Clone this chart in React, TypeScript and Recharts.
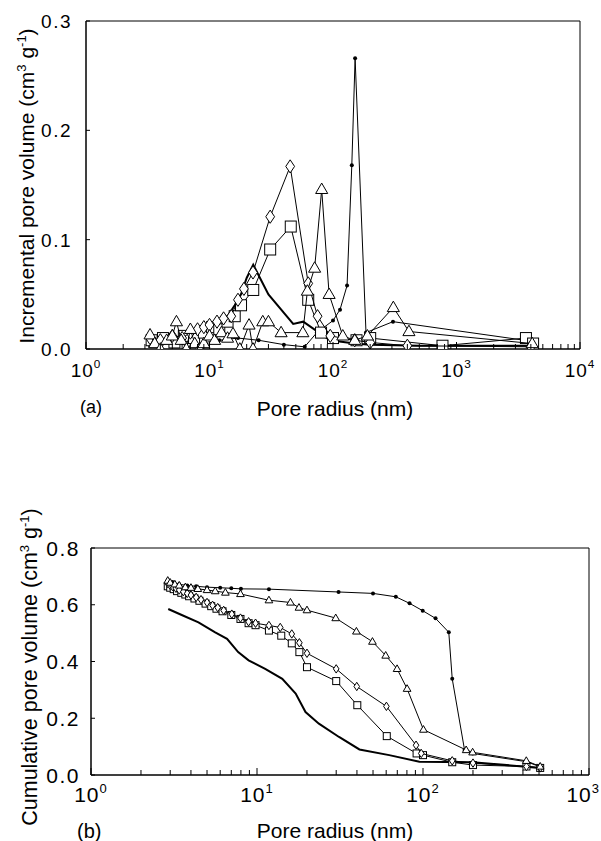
import React from "react";
import { ScatterChart, Scatter, XAxis, YAxis, ReferenceArea } from "recharts";

// ---- data ----
// (a) incremental pore volume, cm3/g vs pore radius, nm
const incDots = [
  { r: 3.3, v: 0.003 }, { r: 5, v: 0.005 }, { r: 8, v: 0.005 }, { r: 12, v: 0.008 },
  { r: 17, v: 0.01 }, { r: 25, v: 0.008 }, { r: 40, v: 0.004 }, { r: 59, v: 0.002 },
  { r: 74, v: 0.015 }, { r: 100, v: 0.026 }, { r: 114, v: 0.036 }, { r: 130, v: 0.058 },
  { r: 142, v: 0.168 }, { r: 151, v: 0.266 }, { r: 185, v: 0.015 }, { r: 306, v: 0.025 },
  { r: 4100, v: 0.007 },
];
const incTriangles = [
  { r: 3.3, v: 0.013 }, { r: 3.6, v: 0.005 }, { r: 4.0, v: 0.0 }, { r: 4.5, v: 0.008 },
  { r: 5.0, v: 0.012 }, { r: 5.4, v: 0.025 }, { r: 5.9, v: 0.008 }, { r: 6.5, v: 0.0 },
  { r: 7.0, v: 0.018 }, { r: 7.6, v: 0.005 }, { r: 8.3, v: 0.0 }, { r: 9, v: 0.005 },
  { r: 10, v: 0.012 }, { r: 11, v: 0.008 }, { r: 12.5, v: 0.015 }, { r: 14, v: 0.01 },
  { r: 15.5, v: 0.014 }, { r: 17.6, v: 0.0 }, { r: 20.9, v: 0.022 }, { r: 22.5, v: 0.0 },
  { r: 27, v: 0.025 }, { r: 30, v: 0.025 }, { r: 38, v: 0.015 }, { r: 57, v: 0.015 },
  { r: 62, v: 0.053 }, { r: 71, v: 0.074 }, { r: 81, v: 0.146 }, { r: 93, v: 0.05 },
  { r: 120, v: 0.012 }, { r: 150, v: 0.008 }, { r: 190, v: 0.012 }, { r: 308, v: 0.038 },
  { r: 412, v: 0.016 }, { r: 4100, v: 0.005 },
];
const incDiamonds = [
  { r: 3.3, v: 0.01 }, { r: 4, v: 0.008 }, { r: 5, v: 0.012 }, { r: 6, v: 0.01 },
  { r: 7, v: 0.015 }, { r: 8, v: 0.018 }, { r: 9, v: 0.02 }, { r: 10, v: 0.022 },
  { r: 11.5, v: 0.025 }, { r: 13, v: 0.028 }, { r: 15, v: 0.03 }, { r: 17, v: 0.045 },
  { r: 19, v: 0.055 }, { r: 22.5, v: 0.07 }, { r: 31, v: 0.121 }, { r: 45, v: 0.167 },
  { r: 63, v: 0.06 }, { r: 75, v: 0.03 }, { r: 95, v: 0.012 }, { r: 150, v: 0.008 },
  { r: 200, v: 0.006 }, { r: 400, v: 0.003 }, { r: 4000, v: 0.002 },
];
const incSquares = [
  { r: 3.4, v: 0.008 }, { r: 4.2, v: 0.01 }, { r: 5.2, v: 0.006 }, { r: 6.2, v: 0.012 },
  { r: 7.5, v: 0.01 }, { r: 9, v: 0.015 }, { r: 10.5, v: 0.02 }, { r: 12, v: 0.018 },
  { r: 14, v: 0.025 }, { r: 16, v: 0.03 }, { r: 18, v: 0.04 }, { r: 22.6, v: 0.054 },
  { r: 31, v: 0.091 }, { r: 45.5, v: 0.112 }, { r: 63, v: 0.045 }, { r: 80, v: 0.015 },
  { r: 100, v: 0.01 }, { r: 155, v: 0.008 }, { r: 200, v: 0.01 }, { r: 770, v: 0.003 },
  { r: 3650, v: 0.01 }, { r: 4170, v: 0.005 },
];
const incThick = [
  { r: 3.3, v: 0.005 }, { r: 4, v: 0.008 }, { r: 5, v: 0.01 }, { r: 6, v: 0.012 },
  { r: 7, v: 0.015 }, { r: 8.5, v: 0.018 }, { r: 10, v: 0.02 }, { r: 12, v: 0.025 },
  { r: 14, v: 0.03 }, { r: 16, v: 0.04 }, { r: 18, v: 0.05 }, { r: 20, v: 0.065 },
  { r: 22.6, v: 0.077 }, { r: 30, v: 0.05 }, { r: 47.6, v: 0.023 }, { r: 57.4, v: 0.025 },
  { r: 94.5, v: 0.008 }, { r: 150, v: 0.005 }, { r: 200, v: 0.004 }, { r: 500, v: 0.003 },
  { r: 4000, v: 0.003 },
];

// (b) cumulative pore volume
const cumDots = [
  { r: 2.9, v: 0.687 }, { r: 3.1, v: 0.68 }, { r: 3.4, v: 0.672 }, { r: 3.8, v: 0.668 },
  { r: 4.3, v: 0.665 }, { r: 5, v: 0.662 }, { r: 6, v: 0.66 }, { r: 7, v: 0.658 },
  { r: 8, v: 0.656 }, { r: 11.8, v: 0.655 }, { r: 31, v: 0.645 }, { r: 50, v: 0.64 },
  { r: 68.6, v: 0.628 }, { r: 83, v: 0.605 }, { r: 99.6, v: 0.579 }, { r: 119, v: 0.552 },
  { r: 143, v: 0.503 }, { r: 150, v: 0.339 }, { r: 178, v: 0.088 }, { r: 199, v: 0.076 },
  { r: 419, v: 0.047 }, { r: 508, v: 0.029 },
];
const cumTriangles = [
  { r: 2.9, v: 0.685 }, { r: 3.0, v: 0.678 }, { r: 3.2, v: 0.672 }, { r: 3.4, v: 0.668 },
  { r: 3.7, v: 0.662 }, { r: 4.0, v: 0.66 }, { r: 4.4, v: 0.656 }, { r: 5, v: 0.652 },
  { r: 5.6, v: 0.648 }, { r: 6.45, v: 0.643 }, { r: 7.95, v: 0.638 }, { r: 11.8, v: 0.616 },
  { r: 15.9, v: 0.608 }, { r: 17.9, v: 0.59 }, { r: 20, v: 0.581 }, { r: 29.8, v: 0.553 },
  { r: 39.7, v: 0.506 }, { r: 49.6, v: 0.47 }, { r: 59.6, v: 0.421 }, { r: 69.8, v: 0.374 },
  { r: 80.2, v: 0.304 }, { r: 100.6, v: 0.16 }, { r: 182, v: 0.088 }, { r: 199, v: 0.08 },
  { r: 419, v: 0.05 }, { r: 508, v: 0.03 },
];
const cumDiamonds = [
  { r: 2.9, v: 0.675 }, { r: 3.0, v: 0.668 }, { r: 3.1, v: 0.664 }, { r: 3.25, v: 0.658 },
  { r: 3.4, v: 0.652 }, { r: 3.6, v: 0.646 }, { r: 3.8, v: 0.64 }, { r: 4.0, v: 0.634 },
  { r: 4.3, v: 0.626 }, { r: 4.6, v: 0.618 }, { r: 5.0, v: 0.608 }, { r: 5.4, v: 0.598 },
  { r: 5.8, v: 0.59 }, { r: 6.3, v: 0.58 }, { r: 7.05, v: 0.567 }, { r: 7.95, v: 0.553 },
  { r: 8.9, v: 0.54 }, { r: 9.8, v: 0.535 }, { r: 11.8, v: 0.527 }, { r: 13.8, v: 0.52 },
  { r: 16.2, v: 0.497 }, { r: 18, v: 0.466 }, { r: 20, v: 0.429 }, { r: 30, v: 0.374 },
  { r: 39.9, v: 0.312 }, { r: 60.2, v: 0.242 }, { r: 90.8, v: 0.105 }, { r: 97.6, v: 0.076 },
  { r: 150, v: 0.05 }, { r: 200, v: 0.042 }, { r: 420, v: 0.03 }, { r: 508, v: 0.025 },
];
const cumSquares = [
  { r: 2.9, v: 0.665 }, { r: 3.0, v: 0.66 }, { r: 3.15, v: 0.655 }, { r: 3.3, v: 0.648 },
  { r: 3.5, v: 0.642 }, { r: 3.7, v: 0.636 }, { r: 3.9, v: 0.63 }, { r: 4.2, v: 0.622 },
  { r: 4.5, v: 0.614 }, { r: 4.9, v: 0.604 }, { r: 5.3, v: 0.595 }, { r: 5.7, v: 0.586 },
  { r: 6.2, v: 0.577 }, { r: 7.0, v: 0.564 }, { r: 7.95, v: 0.55 }, { r: 8.9, v: 0.535 },
  { r: 9.8, v: 0.528 }, { r: 11.8, v: 0.509 }, { r: 14, v: 0.491 }, { r: 16.2, v: 0.464 },
  { r: 18, v: 0.433 }, { r: 20, v: 0.38 }, { r: 30, v: 0.331 }, { r: 40.2, v: 0.246 },
  { r: 60.5, v: 0.137 }, { r: 91.5, v: 0.076 }, { r: 100, v: 0.07 }, { r: 150, v: 0.045 },
  { r: 200, v: 0.035 }, { r: 420, v: 0.03 }, { r: 508, v: 0.025 },
];
const cumThick = [
  { r: 2.92, v: 0.585 }, { r: 3.52, v: 0.564 }, { r: 4.44, v: 0.538 }, { r: 5.6, v: 0.503 },
  { r: 6.6, v: 0.48 }, { r: 7.7, v: 0.433 }, { r: 8.9, v: 0.404 }, { r: 11.2, v: 0.374 },
  { r: 14.2, v: 0.339 }, { r: 17.1, v: 0.287 }, { r: 19.6, v: 0.222 }, { r: 23.6, v: 0.181 },
  { r: 31.2, v: 0.134 }, { r: 41.4, v: 0.09 }, { r: 62.6, v: 0.07 }, { r: 95.1, v: 0.047 },
  { r: 199, v: 0.045 }, { r: 508, v: 0.025 },
];

// axis ticks
const xTicksTop = [
  1, 2, 3, 4, 5, 6, 7, 8, 9, 10, 20, 30, 40, 50, 60, 70, 80, 90,
  100, 200, 300, 400, 500, 600, 700, 800, 900, 1000, 2000, 3000, 4000, 5000, 6000, 7000, 8000, 9000, 10000,
];
const xTicksBottom = [
  1, 2, 3, 4, 5, 6, 7, 8, 9, 10, 20, 30, 40, 50, 60, 70, 80, 90,
  100, 200, 300, 400, 500, 600, 700, 800, 900, 1000,
];
const yTicksTop = [0, 0.1, 0.2, 0.3];
const yTicksBottom = [0, 0.2, 0.4, 0.6, 0.8];

const FONT = '"Liberation Sans", Arial, Helvetica, sans-serif';

const marker = (kind: string, size: number) => (props: any) => {
  const { cx, cy } = props;
  if (cx == null || cy == null) return <g />;
  const h = size / 2;
  if (kind === "triangle")
    return (
      <polygon
        points={`${cx},${cy - h * 1.15} ${cx - h * 1.1},${cy + h * 0.75} ${cx + h * 1.1},${cy + h * 0.75}`}
        fill="#fff" stroke="#000" strokeWidth={1} />
    );
  if (kind === "diamond")
    return (
      <polygon
        points={`${cx},${cy - h * 1.2} ${cx + h * 0.8},${cy} ${cx},${cy + h * 1.2} ${cx - h * 0.8},${cy}`}
        fill="#fff" stroke="#000" strokeWidth={1} />
    );
  if (kind === "square")
    return <rect x={cx - h} y={cy - h} width={size} height={size} fill="#fff" stroke="#000" strokeWidth={1} />;
  if (kind === "dot") return <circle cx={cx} cy={cy} r={2} fill="#000" />;
  return <g />;
};

const makeXTick = (labelDy: number, fs: number, rightLimit: number) => (props: any) => {
  const { x, y, payload } = props;
  const e = Math.log10(payload.value);
  const major = Math.abs(e - Math.round(e)) < 1e-9;
  // the last label sits on the page edge; pull it in so it stays whole
  const atEdge = x + fs > rightLimit;
  return (
    <g>
      <line x1={x} x2={x} y1={y} y2={y - (major ? 7 : 5)} stroke="#000" strokeWidth={1} />
      {major && (
        <text x={atEdge ? rightLimit : x} y={y + labelDy} textAnchor={atEdge ? "end" : "middle"}
          fontFamily={FONT} fontSize={fs} letterSpacing={1} fill="#000">
          10<tspan dy={-fs * 0.45} fontSize={fs * 0.62}>{Math.round(e)}</tspan>
        </text>
      )}
    </g>
  );
};

const makeYTick = (gap: number, fs: number) => (props: any) => {
  const { x, y, payload } = props;
  return (
    <g>
      <line x1={x} x2={x + 4} y1={y} y2={y} stroke="#000" strokeWidth={1} />
      <text x={x - gap} y={y + fs * 0.36} textAnchor="end" fontFamily={FONT} fontSize={fs}
        letterSpacing={1.5} fill="#000">
        {payload.value.toFixed(1)}
      </text>
    </g>
  );
};

const Panel = ({ top, height, margin, xMax, yMax, xTicks, yTicks, xLabelDy, yGap, fs, ms, series }: any) => (
  <div style={{ position: "absolute", left: 0, top }}>
    <ScatterChart width={601} height={height} margin={margin}>
      <XAxis dataKey="r" type="number" scale="log" domain={[1, xMax]} ticks={xTicks} interval={0}
        allowDataOverflow tickSize={0} tickMargin={0} height={40}
        axisLine={{ stroke: "#000" }} tickLine={false} tick={makeXTick(xLabelDy, fs, 600)} />
      <YAxis dataKey="v" type="number" domain={[0, yMax]} ticks={yTicks} interval={0}
        allowDataOverflow tickSize={0} tickMargin={0} width={60}
        axisLine={{ stroke: "#000" }} tickLine={false} tick={makeYTick(yGap, fs)} />
      <ReferenceArea x1={1} x2={xMax} y1={0} y2={yMax} fill="none" stroke="#000" strokeWidth={1} />
      <Scatter data={series.thick} line={{ stroke: "#000", strokeWidth: 2 }} shape={marker("none", 0)} isAnimationActive={false} />
      <Scatter data={series.dots} line={{ stroke: "#000", strokeWidth: 1 }} shape={marker("dot", ms)} isAnimationActive={false} />
      <Scatter data={series.squares} line={{ stroke: "#000", strokeWidth: 1 }} shape={marker("square", ms)} isAnimationActive={false} />
      <Scatter data={series.diamonds} line={{ stroke: "#000", strokeWidth: 1 }} shape={marker("diamond", ms)} isAnimationActive={false} />
      <Scatter data={series.triangles} line={{ stroke: "#000", strokeWidth: 1 }} shape={marker("triangle", ms)} isAnimationActive={false} />
    </ScatterChart>
  </div>
);

const Sup = ({ children }: any) => <tspan dy={-8} fontSize={13}>{children}</tspan>;

export default function App() {
  return (
    <div style={{ position: "absolute", left: 0, top: 0, width: 601, height: 841, background: "#fff" }}>
      <Panel
        top={0} height={400} margin={{ top: 21, right: 21, bottom: 11, left: 26 }}
        xMax={10000} yMax={0.3} xTicks={xTicksTop} yTicks={yTicksTop} xLabelDy={28} yGap={14} fs={19} ms={11}
        series={{ thick: incThick, dots: incDots, squares: incSquares, diamonds: incDiamonds, triangles: incTriangles }}
      />
      <Panel
        top={440} height={401} margin={{ top: 108, right: 12, bottom: 26, left: 31 }}
        xMax={1000} yMax={0.8} xTicks={xTicksBottom} yTicks={yTicksBottom} xLabelDy={27} yGap={11} fs={21} ms={7}
        series={{ thick: cumThick, dots: cumDots, squares: cumSquares, diamonds: cumDiamonds, triangles: cumTriangles }}
      />
      <svg width={601} height={841} style={{ position: "absolute", left: 0, top: 0, pointerEvents: "none" }}
        fontFamily={FONT} fill="#000">
        <text transform="translate(34,186) rotate(-90)" textAnchor="middle" fontSize={21}>
          Incremental pore volume (cm<Sup>3</Sup><tspan dy={8}> g</tspan><Sup>-1</Sup><tspan dy={8}>)</tspan>
        </text>
        <text x={80} y={413} fontSize={18}>(a)</text>
        <text x={335} y={416} textAnchor="middle" fontSize={21}>Pore radius (nm)</text>
        <text transform="translate(37,667) rotate(-90)" textAnchor="middle" fontSize={21.5}>
          Cumulative pore volume (cm<Sup>3</Sup><tspan dy={8}> g</tspan><Sup>-1</Sup><tspan dy={8}>)</tspan>
        </text>
        <text x={77} y={838} fontSize={20}>(b)</text>
        <text x={335} y={838} textAnchor="middle" fontSize={21}>Pore radius (nm)</text>
      </svg>
    </div>
  );
}
